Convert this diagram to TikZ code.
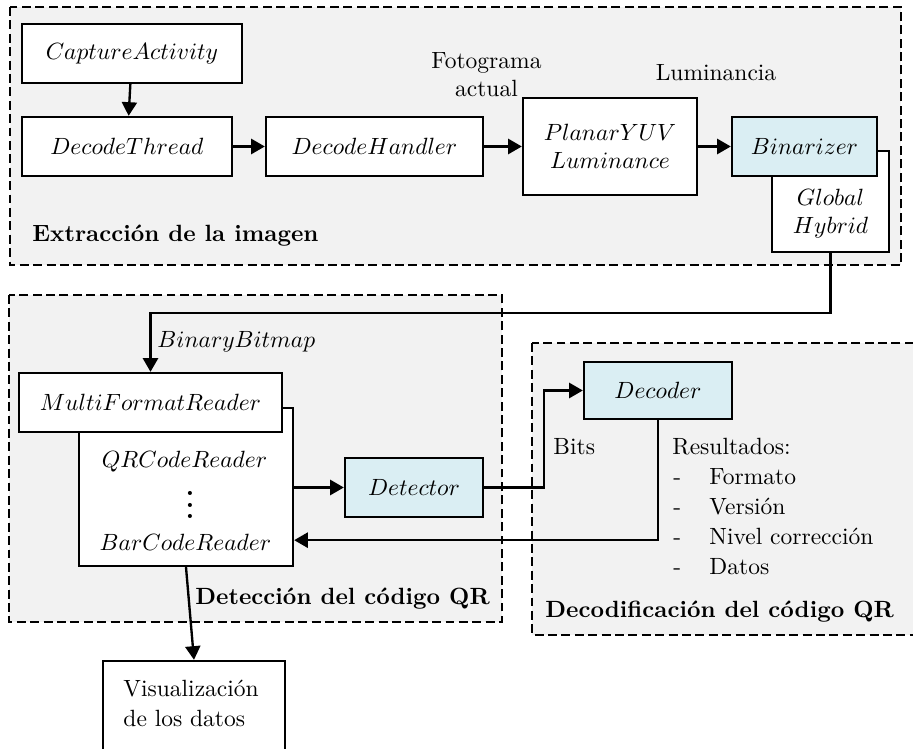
\documentclass[tikz,border=0pt]{standalone}
\usepackage{tikz}
\usepackage{amssymb}
\usepackage{amsmath}
\usetikzlibrary{shapes,positioning,fit,calc,arrows.meta}
\definecolor{areagray}{HTML}{F2F2F2}
\definecolor{stageblue}{HTML}{DAEEF3}

\begin{document}
\begin{tikzpicture}[x=0.4255pt, y=-0.4255pt,
        area/.style={draw, line width=1pt, dash pattern=on 3.8pt off 1.9pt, fill=areagray},
        block/.style={draw, line width=1pt, fill=white, inner sep=0pt},
        stage/.style={block, fill=stageblue},
        flow/.style={line width=1pt, -{Triangle[length=5.8pt, width=6.4pt]}},
        plain/.style={inner sep=0pt}]
        % one pixel of the layout grid, in pt
        \pgfmathsetmacro{\pxu}{0.4255}
        \useasboundingbox (0,0) rectangle (913,749);

        % Dashed areas
        \begin{scope}
            \draw[area] (10,7) rectangle (901,265);
            \draw[area] (9,295) rectangle (502,622);
            \draw[area] (532,343) rectangle (960,635);
        \end{scope}

        % Extraction of the image
        \node[block, minimum width=220*\pxu pt, minimum height=59*\pxu pt]
            (capture) at (132,53.5) {$CaptureActivity$};
        \node[block, minimum width=210*\pxu pt, minimum height=59*\pxu pt]
            (dthread) at (127,146.5) {$DecodeThread$};
        \node[block, minimum width=217*\pxu pt, minimum height=59*\pxu pt]
            (dhandler) at (374.5,146.5) {$DecodeHandler$};
        \node[block, minimum width=174*\pxu pt, minimum height=97*\pxu pt, align=center]
            (planar) at (610,146.5) {$PlanarYUV$\\$Luminance$};
        % box behind the Binarizer
        \node[block, minimum width=117*\pxu pt, minimum height=101*\pxu pt]
            (binkind) at (830.5,201.5) {};
        \node[plain, align=center] (binkindtxt) at (830.5,214) {$Global$\\$Hybrid$};
        \node[stage, minimum width=145*\pxu pt, minimum height=59*\pxu pt]
            (binarizer) at (804.5,146.5) {$Binarizer$};

        \node[plain, anchor=north, align=center] (frame) at (486.5,52) {Fotograma\\actual};
        \node[plain, anchor=base] (luma) at (716,81) {Luminancia};
        \node[plain, anchor=base west, font=\bfseries] (extract) at (32,242)
            {Extracción de la imagen};

        % Detection of the QR code
        \node[block, minimum width=214*\pxu pt, minimum height=158*\pxu pt]
            (reader) at (186,487) {};
        \node[plain] (qrtxt) at (184.5,462) {$QRCodeReader$};
        \node[plain, font=\bfseries\large] (dots) at (190,505)
            {\vbox{\baselineskip=4.7pt \lineskiplimit=0pt \hbox{.}\hbox{.}\hbox{.}}};
        \node[plain] (bartxt) at (185.5,542) {$BarCodeReader$};
        \node[block, minimum width=263*\pxu pt, minimum height=59*\pxu pt]
            (multi) at (150.5,402.5) {$MultiFormatReader$};
        \node[stage, minimum width=138*\pxu pt, minimum height=59*\pxu pt]
            (detector) at (414,487.5) {$Detector$};

        \node[plain, anchor=base west] (bitmap) at (157,348) {$BinaryBitmap$};
        \node[plain, anchor=base west, font=\bfseries] (detect) at (195,605)
            {Detección del código QR};

        % Decoding of the QR code
        \node[stage, minimum width=148*\pxu pt, minimum height=57*\pxu pt]
            (decoder) at (658,390.5) {$Decoder$};
        \node[plain, anchor=base west] (bits) at (553,455) {Bits};
        \node[plain, anchor=base west] (results) at (672,455) {Resultados:};
        \foreach \word [count=\i] in {Formato, Versión, Nivel corrección, Datos} {
            \node[plain, anchor=base west] (dash\i) at (673,{455+30*\i}) {-};
            \node[plain, anchor=base west] (item\i) at (709,{455+30*\i}) {\word};
        }
        \node[plain, anchor=base west, font=\bfseries] (decode) at (545,618)
            {Decodificación del código QR};

        % Output
        \node[block, minimum width=182*\pxu pt, minimum height=130*\pxu pt]
            (visual) at (194,726) {};
        \node[plain, anchor=base west] (visualtxt) at (123,697) {Visualización};
        \node[plain, anchor=base west] (visualtxt2) at (123,727) {de los datos};

        % Connectors
        \begin{scope}[flow]
            \draw (capture) -- (dthread);
            \draw (dthread) -- (dhandler);
            \draw (dhandler) -- (planar.west |- dhandler);
            \draw (planar) -- (binarizer);
            \draw (binkind.south) -- ++(0,60) -| (multi.north);
            \draw (reader.east |- detector) -- (detector);
            \coordinate (bitsbend) at ($(detector.east)+(60,0)$);
            \draw (detector.east) -- (bitsbend) |- (decoder.west);
            \draw (decoder.south) |- ($(reader.south east)+(0,-27)$);
            \draw (reader.south) -- (visual.north);
        \end{scope}

\end{tikzpicture}
\end{document}
